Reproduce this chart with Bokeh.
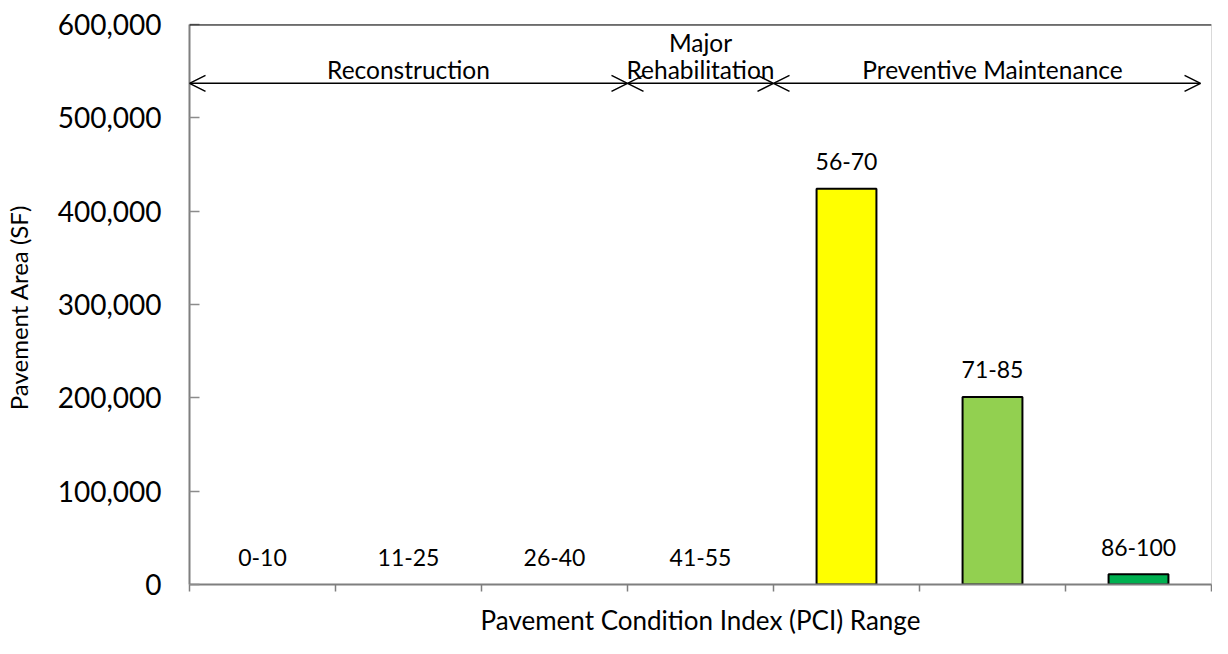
from bokeh.plotting import figure
from bokeh.models import (ColumnDataSource, Range1d, FixedTicker, NumeralTickFormatter,
                          Arrow, OpenHead, Span)
from bokeh.core.properties import value
from bokeh.embed import file_html
from bokeh.resources import INLINE

# ---- data ----
categories = ["0-10", "11-25", "26-40", "41-55", "56-70", "71-85", "86-100"]
area_sf = [0, 0, 0, 0, 424000, 201000, 11000]
bar_colors = ["#FFFF00", "#FFFF00", "#FFFF00", "#FFFF00", "#FFFF00", "#92D050", "#00B050"]
y_ticks = [0, 100000, 200000, 300000, 400000, 500000, 600000]

phase_names = ["Reconstruction", "Major Rehabilitation", "Preventive Maintenance"]
phase_start = [0, 3, 4]          # in category units
phase_end = [3, 4, 7]
phase_level = 537000             # height of the phase arrows (SF axis units)

FONT = "Lato"

x_pos = [i + 0.5 for i in range(len(categories))]
src = ColumnDataSource(dict(
    x=x_pos, top=area_sf, color=bar_colors, cat=categories,
    lalpha=[0 if v == 0 else 1 for v in area_sf],
))

p = figure(width=1212, height=638, output_backend="svg", toolbar_location=None,
           x_range=Range1d(0, len(categories)), y_range=Range1d(0, 600000),
           min_border_left=188, min_border_right=1, min_border_top=24, min_border_bottom=10)
p.outline_line_color = "#D9D9D9"
p.outline_line_width = 1
p.grid.visible = False
p.background_fill_color = "white"

p.vbar(x="x", top="top", width=0.41, bottom=0, source=src, fill_color="color",
       line_color="black", line_width=2, line_alpha="lalpha")

p.text(x="x", y="top", text="cat", source=src, text_align="center", text_baseline="middle",
       y_offset=-27, text_font=value(FONT), text_font_size="23px", text_color="black")

# top border line
p.add_layout(Span(location=600000, dimension="width", line_color="black", line_width=2))

# phase arrows
for i, (s, e) in enumerate(zip(phase_start, phase_end)):
    end_x = e - 0.075 if i == len(phase_start) - 1 else e
    p.add_layout(Arrow(x_start=s, y_start=phase_level, x_end=end_x, y_end=phase_level,
                       line_color="black", line_width=1.5,
                       start=OpenHead(size=16, line_color="black", line_width=1.5),
                       end=OpenHead(size=16, line_color="black", line_width=1.5)))
mid_x = [(s + e) / 2 for s, e in zip(phase_start, phase_end)]
for name, mx in zip(phase_names, mid_x):
    if name.startswith("Major"):
        lines = ["Major", "Rehabilitation"]
        offs = [-41, -14]
    else:
        lines = [name]
        offs = [-14]
    for ln, off in zip(lines, offs):
        p.text(x=[mx], y=[phase_level], text=[ln], text_align="center", text_baseline="middle",
               y_offset=off, text_font=value(FONT), text_font_size="24.5px", text_color="black")

# axes
p.xaxis.ticker = FixedTicker(ticks=list(range(len(categories) + 1)))
p.xaxis.major_label_overrides = {i: "" for i in range(len(categories) + 1)}
p.xaxis.major_label_text_font_size = "1px"
p.xaxis.major_label_standoff = 0
p.xaxis.major_tick_in = 0
p.xaxis.major_tick_out = 7
p.xaxis.minor_tick_line_color = None
p.xaxis.axis_line_color = "#7F7F7F"
p.xaxis.axis_line_width = 2
p.xaxis.major_tick_line_color = "#7F7F7F"
p.xaxis.major_tick_line_width = 1.5
p.xaxis.axis_label = "Pavement Condition Index (PCI) Range"
p.xaxis.axis_label_text_font = FONT
p.xaxis.axis_label_text_font_size = "26px"
p.xaxis.axis_label_text_font_style = "normal"
p.xaxis.axis_label_text_color = "black"
p.xaxis.axis_label_standoff = 12

p.yaxis.ticker = FixedTicker(ticks=y_ticks)
p.yaxis.formatter = NumeralTickFormatter(format="0,0")
p.yaxis.major_tick_in = 10
p.yaxis.major_tick_out = 0
p.yaxis.minor_tick_line_color = None
p.yaxis.axis_line_color = "#7F7F7F"
p.yaxis.axis_line_width = 2
p.yaxis.major_tick_line_color = "#8C8C8C"
p.yaxis.major_tick_line_width = 1.5
p.yaxis.major_label_text_font = FONT
p.yaxis.major_label_text_font_size = "28px"
p.yaxis.major_label_text_color = "black"
p.yaxis.major_label_standoff = 28
p.yaxis.axis_label = "Pavement  Area (SF)"
p.yaxis.axis_label_text_font = FONT
p.yaxis.axis_label_text_font_size = "24px"
p.yaxis.axis_label_text_font_style = "normal"
p.yaxis.axis_label_text_color = "black"
p.yaxis.axis_label_standoff = 22

open("out.html", "w").write(file_html(p, INLINE))
